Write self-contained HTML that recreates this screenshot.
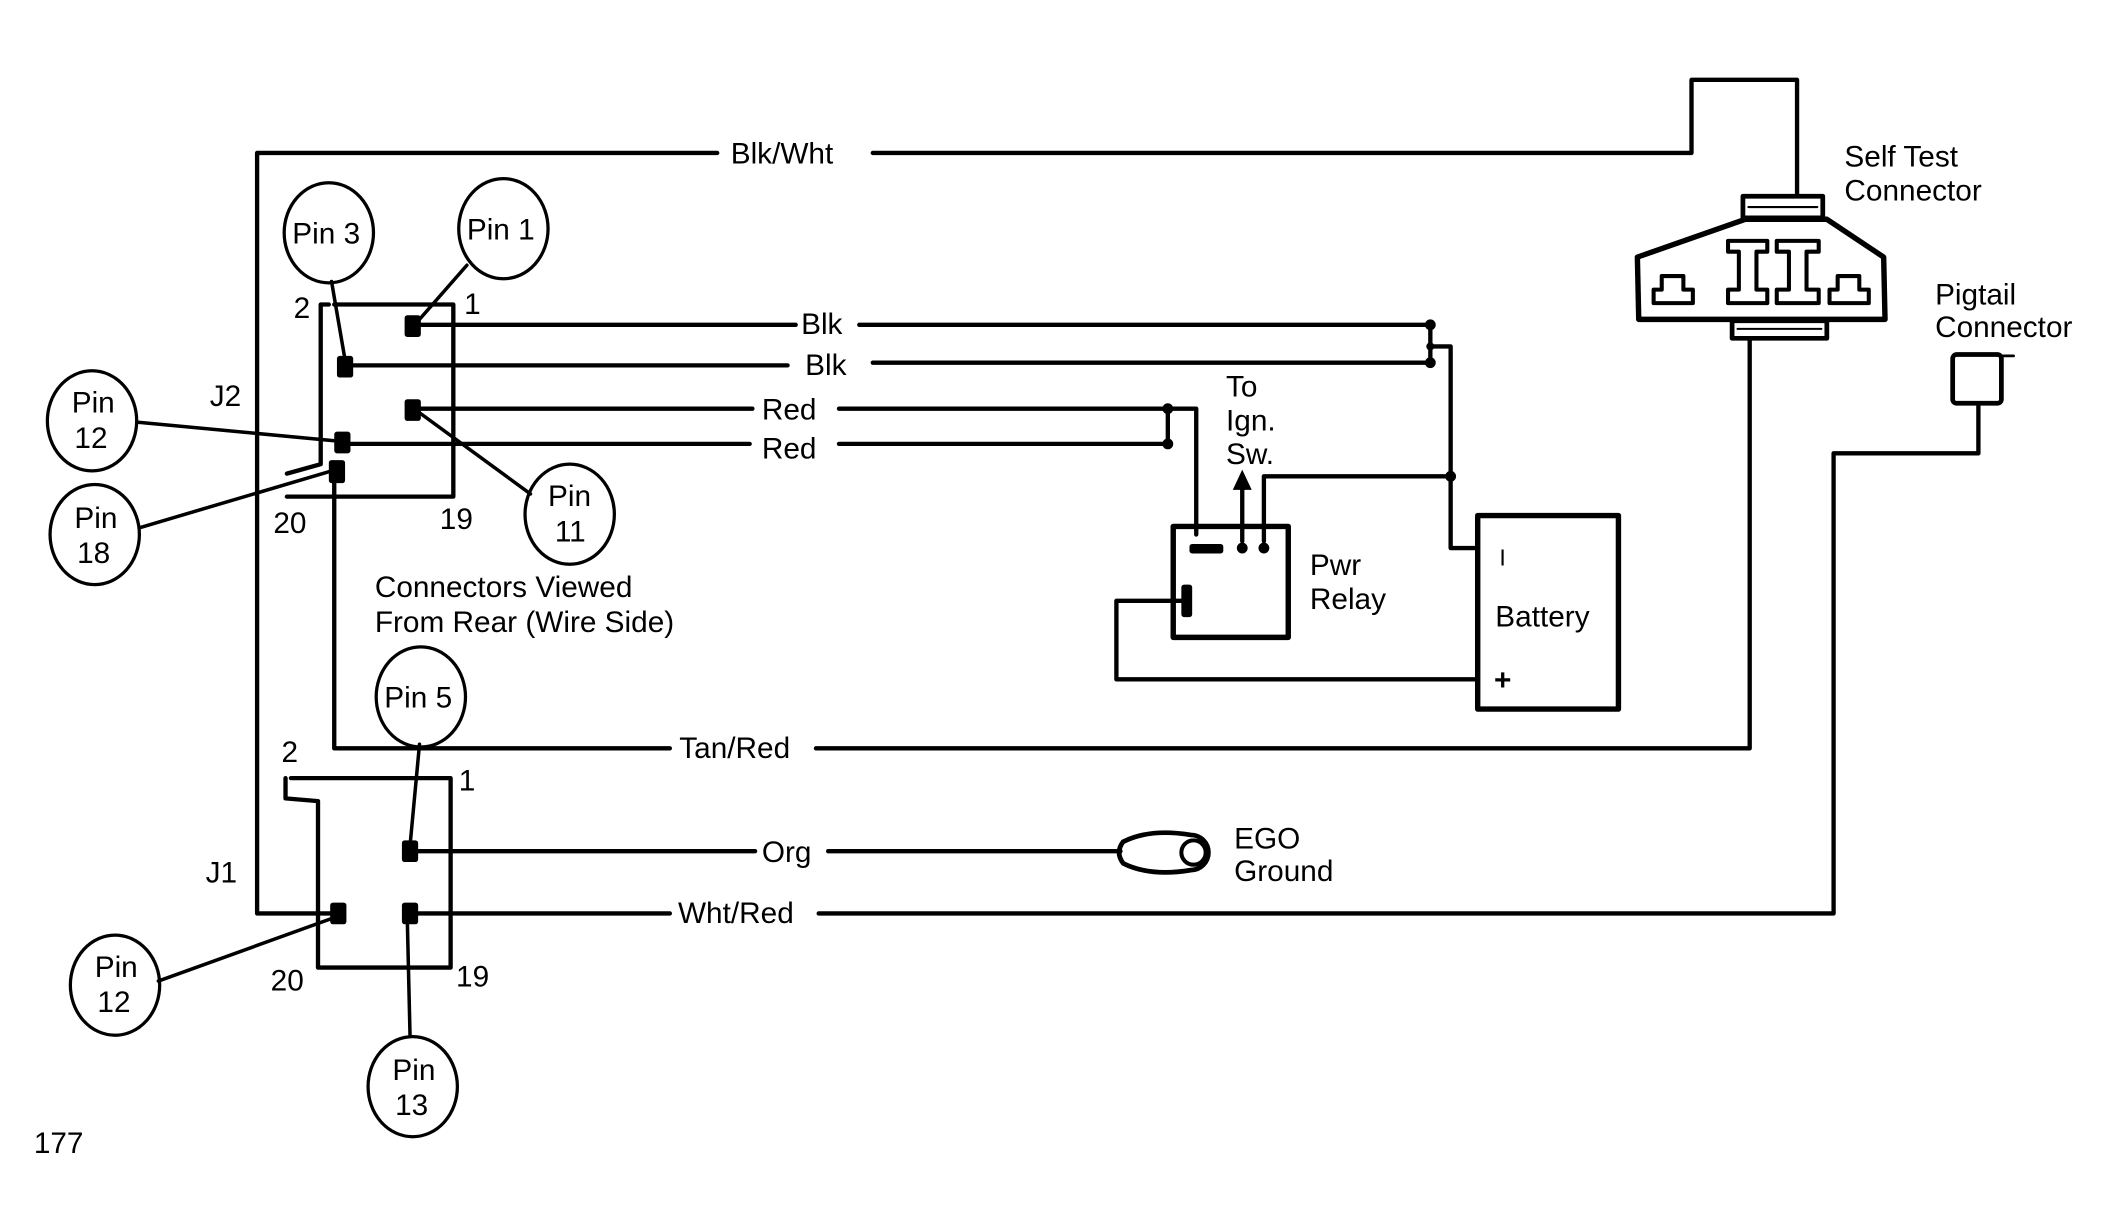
<!DOCTYPE html>
<html><head><meta charset="utf-8"><style>
html,body{margin:0;padding:0;background:#fff;}
svg{display:block;}
text{font-family:"Liberation Sans",sans-serif;font-size:22px;fill:#000;}
</style></head><body>
<svg width="2111" height="1224" viewBox="0 0 1560 904.5" xmlns="http://www.w3.org/2000/svg">
<g fill="none" stroke="#000" stroke-width="3.2" stroke-linejoin="round" stroke-linecap="round">
<polyline points="250,675 190,675 190,113 530,113"/>
<polyline points="645,113 1250,113 1250,59 1328,59 1328,145"/>
<polyline points="247,225 335,225 335,367 212,367"/>
<polyline points="243,225 237,225 237,343 212,350"/>
<line x1="305" y1="240" x2="588" y2="240"/>
<line x1="635" y1="240" x2="1057" y2="240"/>
<line x1="255" y1="270" x2="582" y2="270"/>
<line x1="645" y1="268" x2="1057" y2="268"/>
<line x1="1057" y1="240" x2="1057" y2="268"/>
<polyline points="1057,256 1072,256 1072,405 1092,405"/>
<line x1="305" y1="302" x2="556" y2="302"/>
<line x1="620" y1="302" x2="863" y2="302"/>
<line x1="255" y1="328" x2="554" y2="328"/>
<line x1="620" y1="328" x2="863" y2="328"/>
<line x1="863" y1="302" x2="863" y2="328"/>
<polyline points="863,302 884,302 884,395"/>
<polyline points="934,400 934,352 1072,352"/>
<line x1="918" y1="400" x2="918" y2="360"/>
<polyline points="877,444 825,444 825,502 1092,502"/>
<polyline points="247,350 247,553 495,553"/>
<polyline points="603,553 1293,553 1293,250"/>
<polyline points="215,575 333,575 333,715 235,715 235,592 211,590 211,575"/>
<line x1="303" y1="629" x2="558" y2="629"/>
<line x1="612" y1="629" x2="828" y2="629"/>
<line x1="303" y1="675" x2="495" y2="675"/>
<polyline points="605,675 1355,675 1355,335 1462,335 1462,300"/>
<g stroke-width="2.6">
<line x1="245" y1="208" x2="255" y2="266"/>
<line x1="345" y1="196" x2="310" y2="236"/>
<line x1="102" y1="312" x2="250" y2="326"/>
<line x1="103" y1="390" x2="245" y2="348"/>
<line x1="310" y1="305" x2="392" y2="365"/>
<line x1="310" y1="550" x2="303" y2="625"/>
<line x1="117" y1="725" x2="250" y2="677"/>
<line x1="301" y1="680" x2="303" y2="765"/>
</g>
<g stroke-width="2.4">
<ellipse cx="243" cy="172" rx="33" ry="37"/>
<ellipse cx="372" cy="169" rx="33" ry="37"/>
<ellipse cx="68" cy="311" rx="33" ry="37"/>
<ellipse cx="70" cy="395" rx="33" ry="37"/>
<ellipse cx="421" cy="380" rx="33" ry="37"/>
<ellipse cx="311" cy="515" rx="33" ry="37"/>
<ellipse cx="85" cy="728" rx="33" ry="37"/>
<ellipse cx="305" cy="803" rx="33" ry="37"/>
</g>
<rect x="867" y="389" width="85" height="82" stroke-width="4"/>
<rect x="1092" y="381" width="104" height="143" stroke-width="4"/>
<path d="M1210,190 L1290,162 L1350,162 L1392,190 L1393,236 L1211,236 Z" stroke-width="4"/>
<rect x="1288" y="145" width="59" height="16" stroke-width="3.5"/>
<line x1="1292" y1="153" x2="1343" y2="153" stroke-width="1.5"/>
<rect x="1280" y="237" width="70" height="13" stroke-width="3.5"/>
<line x1="1284" y1="243" x2="1346" y2="243" stroke-width="1.5"/>
<path d="M1222,224 L1222,214 L1228,214 L1228,204 L1244,204 L1244,214 L1251,214 L1251,224 Z" stroke-width="3"/>
<path d="M1352,224 L1352,214 L1358,214 L1358,204 L1374,204 L1374,214 L1381,214 L1381,224 Z" stroke-width="3"/>
<path d="M1277,178 L1306,178 L1306,186 L1298,186 L1298,214 L1306,214 L1306,224 L1277,224 L1277,214 L1285,214 L1285,186 L1277,186 Z" stroke-width="3"/>
<path d="M1313,178 L1344,178 L1344,186 L1335,186 L1335,214 L1344,214 L1344,224 L1313,224 L1313,214 L1322,214 L1322,186 L1313,186 Z" stroke-width="3"/>
<rect x="1443" y="262" width="36" height="36" rx="3" stroke-width="3.5"/>
<line x1="1479" y1="263" x2="1488" y2="263" stroke-width="2"/>
<path d="M830,622 Q850,612 880,617 A13,13 0 0 1 880,643 Q850,648 830,638 Q824,630 830,622 Z" stroke-width="3.5"/>
<circle cx="882" cy="630" r="9" stroke-width="3"/>
</g>
<g fill="#000">
<rect x="299" y="233" width="12" height="16" rx="2"/>
<rect x="249" y="263" width="12" height="16" rx="2"/>
<rect x="299" y="295" width="12" height="16" rx="2"/>
<rect x="247" y="319" width="12" height="16" rx="2"/>
<rect x="243" y="340" width="12" height="17" rx="2"/>
<rect x="297" y="621" width="12" height="16" rx="2"/>
<rect x="297" y="667" width="12" height="16" rx="2"/>
<rect x="244" y="667" width="12" height="16" rx="2"/>
<circle cx="1057" cy="240" r="4"/><circle cx="1057" cy="268" r="4"/><circle cx="1057" cy="256" r="3"/>
<circle cx="863" cy="302" r="4"/><circle cx="863" cy="328" r="4"/>
<circle cx="1072" cy="352" r="4"/>
<rect x="879" y="402" width="25" height="7" rx="2"/>
<circle cx="918" cy="405" r="4"/><circle cx="934" cy="405" r="4"/>
<rect x="873" y="432" width="8" height="24" rx="2"/>
<polygon points="911,362 925,362 918,347"/>
</g>
<text x="540" y="121">Blk/Wht</text>
<text x="592" y="247">Blk</text>
<text x="595" y="277">Blk</text>
<text x="563" y="310">Red</text>
<text x="563" y="339">Red</text>
<text x="502" y="560">Tan/Red</text>
<text x="563" y="637">Org</text>
<text x="501" y="682">Wht/Red</text>
<text x="216" y="180">Pin 3</text>
<text x="345" y="177">Pin 1</text>
<text x="53" y="305">Pin</text><text x="55" y="331">12</text>
<text x="55" y="390">Pin</text><text x="57" y="416">18</text>
<text x="405" y="374">Pin</text><text x="410" y="400">11</text>
<text x="284" y="523">Pin 5</text>
<text x="70" y="722">Pin</text><text x="72" y="748">12</text>
<text x="290" y="798">Pin</text><text x="292" y="824">13</text>
<text x="217" y="235">2</text>
<text x="343" y="232">1</text>
<text x="155" y="300">J2</text>
<text x="202" y="394">20</text>
<text x="325" y="391">19</text>
<text x="277" y="441">Connectors Viewed</text>
<text x="277" y="467">From Rear (Wire Side)</text>
<text x="208" y="563">2</text>
<text x="339" y="584">1</text>
<text x="152" y="652">J1</text>
<text x="200" y="732">20</text>
<text x="337" y="729">19</text>
<text x="25" y="852">177</text>
<text x="906" y="293">To</text>
<text x="906" y="318">Ign.</text>
<text x="906" y="343">Sw.</text>
<text x="968" y="425">Pwr</text>
<text x="968" y="450">Relay</text>
<text x="1105" y="463">Battery</text>
<text x="1108" y="418" style="font-size:17px">I</text>
<text x="1104" y="510" style="font-weight:bold">+</text>
<text x="912" y="627">EGO</text>
<text x="912" y="651">Ground</text>
<text x="1363" y="123">Self Test</text>
<text x="1363" y="148">Connector</text>
<text x="1430" y="225">Pigtail</text>
<text x="1430" y="249">Connector</text>
</svg>
</body></html>
